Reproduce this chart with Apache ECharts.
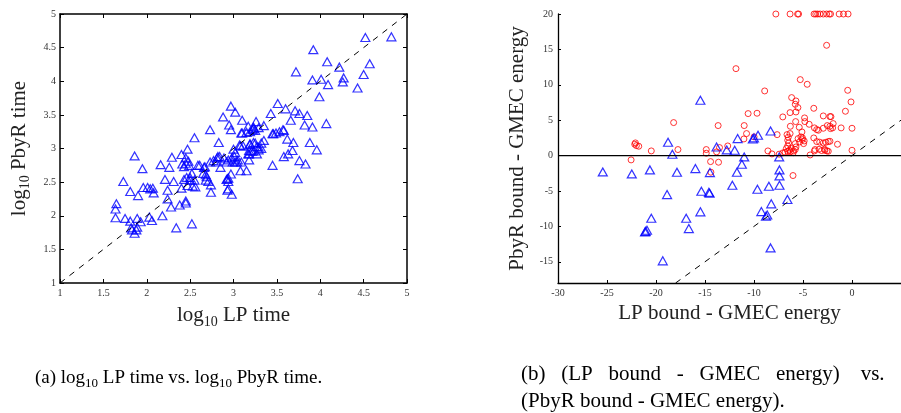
<!DOCTYPE html>
<html>
<head>
<meta charset="utf-8">
<script src="https://cdn.jsdelivr.net/npm/echarts@6/dist/echarts.min.js"></script>
<style>
  html, body { margin: 0; padding: 0; background: #fff; }
  #main { width: 901px; height: 413px; }
</style>
</head>
<body>
<div id="main"></div>
<script>
// (a) log10 LP time vs log10 PbyR time, one [lp, pbyr] pair per problem
var timePairs = [
  [4.52,4.65],[4.82,4.66],[3.92,4.47],[4.08,4.29],[4.22,4.21],[4.57,4.26],[3.72,4.14],[3.91,4.02],
  [4.01,4.03],[4.09,3.95],[4.27,4.05],[4.26,3.99],[4.50,4.10],[4.43,3.90],[3.99,3.77],[3.51,3.67],
  [2.97,3.63],[3.02,3.54],[2.88,3.47],[3.43,3.52],[3.60,3.59],[3.71,3.56],[3.76,3.52],[3.85,3.49],
  [3.66,3.42],[4.07,3.37],[3.10,3.42],[3.26,3.40],[2.95,3.35],[2.97,3.28],[2.73,3.28],[3.17,3.33],
  [3.22,3.28],[3.10,3.23],[3.23,3.32],[3.35,3.34],[3.82,3.35],[3.91,3.32],[3.58,3.27],[3.45,3.22],
  [3.49,3.23],[2.55,3.16],[3.62,3.14],[2.83,3.09],[3.23,3.09],[3.35,3.12],[3.69,3.09],[3.88,3.09],
  [3.08,3.04],[3.19,3.06],[3.29,3.02],[3.32,3.08],[3.96,2.98],[3.68,2.97],[3.00,2.99],[3.02,2.94],
  [3.18,2.92],[3.27,2.92],[3.63,2.92],[1.86,2.89],[2.40,2.91],[2.47,2.99],[2.45,2.86],[2.48,2.81],
  [2.29,2.87],[2.82,2.88],[2.77,2.82],[2.89,2.86],[2.94,2.83],[2.99,2.80],[3.04,2.80],[3.18,2.83],
  [3.58,2.88],[3.76,2.82],[3.83,2.77],[3.45,2.75],[2.16,2.76],[2.26,2.72],[2.43,2.73],[2.59,2.75],
  [2.67,2.73],[2.49,2.75],[2.85,2.72],[3.08,2.67],[3.15,2.67],[1.95,2.70],[2.97,2.62],[2.52,2.63],
  [2.68,2.61],[2.21,2.54],[2.31,2.51],[2.43,2.54],[2.50,2.57],[2.55,2.53],[2.68,2.53],[2.71,2.51],
  [2.93,2.55],[2.94,2.51],[3.74,2.55],[1.73,2.51],[2.53,2.44],[2.56,2.43],[2.47,2.45],[2.74,2.46],
  [2.40,2.41],[1.96,2.42],[2.01,2.42],[2.04,2.40],[2.07,2.41],[2.08,2.34],[1.81,2.36],[1.90,2.30],
  [2.24,2.38],[2.74,2.35],[2.93,2.38],[2.98,2.32],[2.24,2.25],[2.28,2.13],[2.38,2.16],[2.45,2.22],
  [2.45,2.19],[1.65,2.18],[1.64,2.10],[1.64,1.97],[1.75,1.96],[1.81,1.92],[1.89,1.96],[1.93,1.91],
  [2.03,1.98],[2.06,1.93],[2.18,2.00],[2.34,1.82],[2.52,1.88],[1.83,1.79],[1.88,1.79],[1.89,1.83],
  [1.86,1.74],[1.82,1.82],[3.23,3.30],[3.29,3.31],[3.25,3.27],[3.09,3.23],[3.15,3.24],[3.19,3.25],
  [3.46,3.22],[3.53,3.25],[3.57,3.28],[3.07,3.05],[3.11,3.04],[3.19,3.07],[3.25,3.08],[3.27,3.03],
  [3.18,2.97],[3.23,2.96],[3.29,2.98],[3.32,3.00],[2.81,2.86],[2.84,2.88],[2.98,2.86],[3.01,2.88],
  [3.05,2.83],[3.17,2.92],[3.21,2.96],[2.61,2.75],[2.66,2.72],[2.73,2.80],[2.80,2.80],[2.92,2.80],
  [3.02,2.80],[3.09,2.80],[2.94,2.56],[2.92,2.54],[2.65,2.63],[2.69,2.58],[2.94,2.40],[2.41,2.77],
  [2.45,2.78],[2.46,2.57],[2.50,2.53]
];

// (b) [LP bound - GMEC, PbyR bound - GMEC]; triangles and circles
var boundTriangles = [
  [-25.43,-2.31],[-22.47,-2.59],[-20.62,-2.02],[-18.77,1.88],[-18.33,0.19],[-18.87,-5.51],
  [-17.86,-2.35],[-20.48,-8.85],[-21.06,-10.70],[-20.92,-10.55],[-21.12,-10.78],[-19.31,-14.87],
  [-15.47,7.81],[-15.98,-1.84],[-15.37,-5.04],[-15.47,-7.95],[-16.92,-8.85],[-16.65,-10.31],
  [-14.50,-2.40],[-14.53,-5.32],[-14.60,-5.20],[-13.82,1.22],[-12.78,0.80],[-11.97,0.75],
  [-11.67,2.40],[-11.74,-2.35],[-12.21,-4.19],[-11.24,-1.22],[-11.00,-0.19],[-10.12,2.35],
  [-10.00,2.50],[-9.59,2.87],[-9.65,-4.75],[-9.25,-7.91],[-8.78,-8.56],[-8.65,-8.40],
  [-8.48,-4.33],[-8.24,-6.82],[-8.31,3.48],[-8.31,-13.04],[-7.43,-0.19],[-7.40,-2.02],
  [-7.40,-2.87],[-7.40,-4.19],[-6.59,-6.21]
];
var boundCircles = [
  [-7.77,20],[-6.32,20],[-5.55,20],[-5.45,20],[-3.87,20],[-3.70,20],[-3.50,20],[-3.26,20],
  [-2.93,20],[-2.59,20],[-2.32,20],[-2.19,20],[-1.31,20],[-0.87,20],[-0.40,20],
  [-2.59,15.58],[-11.84,12.28],[-5.28,10.73],[-4.57,10.07],[-8.91,9.13],[-0.44,9.22],[-6.16,8.19],
  [-5.72,7.72],[-5.79,7.25],[-0.10,7.58],[-5.52,6.78],[-3.90,6.68],[-0.67,6.26],[-6.32,6.07],
  [-5.72,6.16],[-10.60,5.93],[-9.69,5.98],[-2.93,5.60],[-2.25,5.51],[-2.15,5.50],[-7.06,5.46],
  [-4.84,5.32],[-5.75,4.80],[-4.81,4.80],[-4.37,4.42],[-1.92,4.52],[-18.20,4.66],[-13.66,4.24],
  [-11.00,4.24],[-6.29,4.14],[-5.38,4.00],[-2.52,4.24],[-2.25,4.14],[-1.98,3.91],[-2.19,3.81],
  [-2.93,3.86],[-3.83,3.91],[-3.60,3.67],[-3.43,3.58],[-1.11,3.91],[0,3.86],[-7.64,2.96],
  [-10.76,3.11],[-6.63,2.96],[-6.32,3.11],[-9.99,2.64],[-11.03,2.35],[-5.21,2.64],[-5.05,2.49],
  [-3.90,2.49],[-6.56,2.16],[-6.46,1.79],[-6.56,1.36],[-5.79,1.69],[-5.35,1.93],[-5.08,2.26],
  [-4.88,2.07],[-4.94,1.69],[-3.60,1.98],[-2.93,1.79],[-2.66,1.88],[-2.42,1.98],[-2.25,2.02],
  [-1.48,1.60],[-22.10,1.79],[-22.17,1.60],[-22.00,1.41],[-21.76,1.32],[-20.48,0.66],[-17.76,0.85],
  [-14.87,0.85],[-14.87,0.33],[-13.82,0.52],[-13.52,1.13],[-12.68,1.36],[-8.58,0.66],[-8.17,0.24],
  [-7.43,0.20],[-7.06,0.38],[-6.83,0.47],[-6.56,0.61],[-6.39,0.75],[-6.29,0.52],[-6.19,0.99],
  [-5.96,0.66],[-5.79,0.85],[-5.72,1.22],[-4.27,0.09],[-3.83,0.66],[-3.77,0.85],[-3.36,0.89],
  [-3.10,0.71],[-2.76,0.75],[-2.56,0.66],[-2.42,0.61],[0,0.75],[-22.54,-0.61],[-14.43,-0.85],
  [-13.62,-0.94],[-14.40,-2.35],[-6.02,-2.82],[-6.50,2.60],[-6.00,0.40],[-5.50,2.40],[-6.70,1.00],
  [-3.30,1.90],[-2.80,0.90],[-5.11,3.34]
];

// reference lines (y = x and y = 0)
var diagA = [1, 5];
var diagB = [-18, 5];
var zeroB = [-30, 5];
var boundYTicks = [-15, -10, -5, 0, 5, 10, 15, 20];

var serif = 'Liberation Serif';
var titleRich = {
  a: { fontFamily: serif, fontSize: 21, color: '#222', lineHeight: 26 },
  s: { fontFamily: serif, fontSize: 14, color: '#222', lineHeight: 14, padding: [12, 0, 0, 0] }
};
var capRichA = {
  a: { fontFamily: serif, fontSize: 19, color: '#111', lineHeight: 24 },
  s: { fontFamily: serif, fontSize: 13, color: '#111', lineHeight: 13, padding: [11, 0, 0, 0] }
};
var capRichB = {
  a: { fontFamily: serif, fontSize: 21, color: '#111', lineHeight: 26 }
};

function boxAxis(pos, extra) {
  var ax = {
    type: 'value', position: pos, min: 1, max: 5, interval: 0.5,
    axisLine: { show: true, onZero: false, lineStyle: { color: '#000', width: 1.5 } },
    axisTick: { show: true, inside: true, length: 4, lineStyle: { color: '#000' } },
    axisLabel: { show: false },
    splitLine: { show: false }
  };
  for (var k in extra) ax[k] = extra[k];
  return ax;
}

var chart = echarts.init(document.getElementById('main'));
chart.setOption({
  animation: false,
  grid: [
    { left: 60, right: 494, top: 14, bottom: 130 },
    { left: 558, right: -4, top: 14, bottom: 130 }
  ],
  xAxis: [
    boxAxis('bottom', {
      gridIndex: 0,
      axisLabel: { show: true, margin: 5, fontFamily: serif, fontSize: 10, color: '#333' },
      name: '{a|log}{s|10}{a| LP time}', nameLocation: 'middle', nameGap: 12,
      nameTextStyle: { rich: titleRich }
    }),
    boxAxis('top', { gridIndex: 0 }),
    {
      type: 'value', gridIndex: 1, min: -30, max: 5, interval: 5,
      axisLine: { show: true, onZero: false, lineStyle: { color: '#000', width: 1.3 } },
      axisTick: { show: true, inside: true, length: 3, lineStyle: { color: '#000' } },
      axisLabel: { margin: 5, showMaxLabel: false, fontFamily: serif, fontSize: 10, color: '#333' },
      splitLine: { show: false },
      name: '{a|LP bound - GMEC energy}', nameLocation: 'middle', nameGap: 12,
      nameTextStyle: { rich: titleRich }
    }
  ],
  yAxis: [
    boxAxis('left', {
      gridIndex: 0,
      axisLabel: { show: true, margin: 4, fontFamily: serif, fontSize: 10, color: '#333' },
      name: '{a|log}{s|10}{a| PbyR time}', nameLocation: 'middle', nameGap: 28,
      nameTextStyle: { rich: titleRich }
    }),
    boxAxis('right', { gridIndex: 0 }),
    {
      type: 'value', gridIndex: 1, min: -18, max: 20,
      axisLine: { show: true, onZero: false, lineStyle: { color: '#000', width: 1.3 } },
      axisTick: { show: true, inside: true, length: 3, customValues: boundYTicks, lineStyle: { color: '#000' } },
      axisLabel: { margin: 5, customValues: boundYTicks, fontFamily: serif, fontSize: 10, color: '#333' },
      splitLine: { show: false },
      name: '{a|PbyR bound - GMEC energy}', nameLocation: 'middle', nameGap: 28,
      nameTextStyle: { rich: titleRich }
    }
  ],
  series: [
    {
      type: 'line', xAxisIndex: 0, yAxisIndex: 0, symbol: 'none', silent: true,
      data: diagA.map(function (v) { return [v, v]; }),
      lineStyle: { color: '#000', width: 1, type: [6, 6] }
    },
    {
      type: 'scatter', xAxisIndex: 0, yAxisIndex: 0, symbol: 'triangle', symbolSize: [9, 8],
      data: timePairs,
      itemStyle: { color: 'rgba(0,0,0,0)', borderColor: '#0000ff', borderWidth: 1.2 }
    },
    {
      type: 'line', xAxisIndex: 2, yAxisIndex: 2, symbol: 'none', silent: true,
      data: zeroB.map(function (v) { return [v, 0]; }),
      lineStyle: { color: '#000', width: 1.2 }
    },
    {
      type: 'line', xAxisIndex: 2, yAxisIndex: 2, symbol: 'none', silent: true,
      data: diagB.map(function (v) { return [v, v]; }),
      lineStyle: { color: '#000', width: 1, type: [6, 6] }
    },
    {
      type: 'scatter', xAxisIndex: 2, yAxisIndex: 2, symbol: 'circle', symbolSize: 6,
      data: boundCircles,
      itemStyle: { color: 'rgba(0,0,0,0)', borderColor: '#ff0000', borderWidth: 1 }
    },
    {
      type: 'scatter', xAxisIndex: 2, yAxisIndex: 2, symbol: 'triangle', symbolSize: [9, 8],
      data: boundTriangles,
      itemStyle: { color: 'rgba(0,0,0,0)', borderColor: '#0000ff', borderWidth: 1.2 }
    }
  ],
  graphic: [
    {
      type: 'text', left: 35, top: 366,
      style: { text: '{a|(a) log}{s|10}{a| LP time vs. log}{s|10}{a| PbyR time.}', rich: capRichA }
    },
    {
      type: 'text', left: 521, top: 364,
      style: { text: '{a|(b)   (LP   bound   -   GMEC   energy)    vs.}', rich: capRichB }
    },
    {
      type: 'text', left: 521, top: 391,
      style: { text: '{a|(PbyR bound - GMEC energy).}', rich: capRichB }
    }
  ]
});
</script>
</body>
</html>
